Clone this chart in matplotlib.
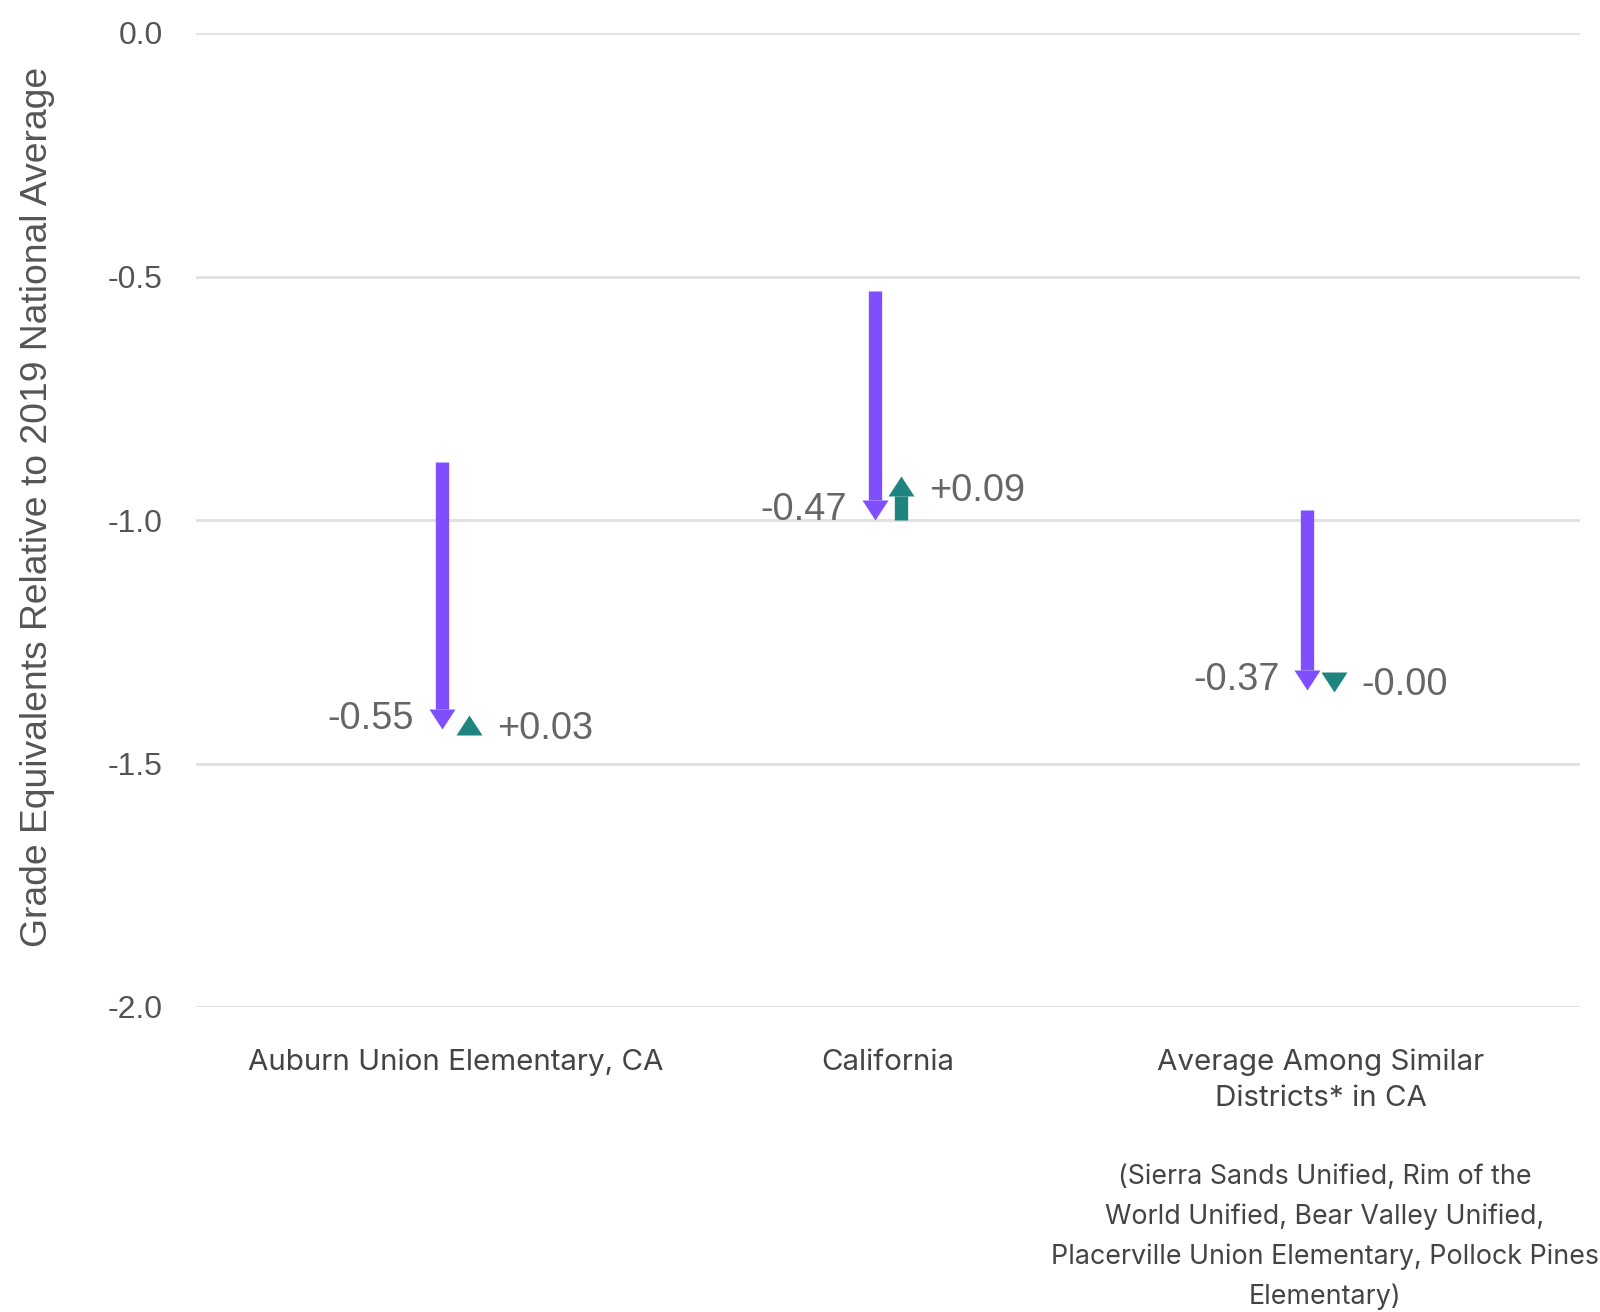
import matplotlib
matplotlib.use("Agg")
from matplotlib import pyplot as plt
from matplotlib.path import Path
import matplotlib.transforms as mtransforms

# data
categories = ["Auburn Union Elementary, CA", "California",
              "Average Among Similar\nDistricts* in CA"]
start = [-0.88, -0.53, -0.98]      # top of purple arrow
drop = [-0.55, -0.47, -0.37]       # purple change
rebound = [0.03, 0.09, -0.004]     # teal change
yticks = [0.0, -0.5, -1.0, -1.5, -2.0]
footnote = ("(Sierra Sands Unified, Rim of the\nWorld Unified, Bear Valley Unified,\n"
            "Placerville Union Elementary, Pollock Pines\nElementary)")

purple = "#7f4fff"
teal = "#1e8480"
num_font = "Liberation Sans"
cat_font = "Inter"

W, H = 1600, 1312
fig = plt.figure(figsize=(W / 100, H / 100), dpi=100)
left, right, bottom, top = 196 / W, 1580 / W, 1 - 1007 / H, 1 - 33 / H
ax = fig.add_axes([left, bottom, right - left, top - bottom])
ax.set_xlim(-0.6, 2.6)
ax.set_ylim(-2.0, 0.0)

px_per_unit = H * (top - bottom) / 2.0
head_len = 20 / px_per_unit
dx = 0.031

# arrow head marker, tip at origin
up_head = Path([(0, 0), (-13, -20), (13, -20), (0, 0)],
               [Path.MOVETO, Path.LINETO, Path.LINETO, Path.CLOSEPOLY])
down_head = Path([(0, 0), (-13, 20), (13, 20), (0, 0)],
                 [Path.MOVETO, Path.LINETO, Path.LINETO, Path.CLOSEPOLY])


def arrow(x, y0, y1, color):
    d = 1 if y1 >= y0 else -1
    shaft_end = y1 - d * head_len
    if (shaft_end - y0) * d > 0:
        ax.plot([x, x], [y0, shaft_end], color=color, lw=9.6,
                solid_capstyle="butt", zorder=3)
    ax.plot([x], [y1], marker=up_head if d > 0 else down_head,
            markersize=28.8, color=color, markeredgewidth=0, zorder=4)
    return d


for i in range(len(categories)):
    y_mid = start[i] + drop[i]
    y_end = y_mid + rebound[i]
    d1 = arrow(i - dx, start[i], y_mid, purple)
    d2 = arrow(i + dx, y_mid, y_end, teal)
    ax.annotate(f"{drop[i]:.2f}", (i - dx, y_mid), xytext=(-20, -d1 * 7.5),
                textcoords="offset points", ha="right", va="center",
                fontsize=27.3, color="#666666", family=num_font)
    ax.annotate(f"{rebound[i]:+.2f}", (i + dx, y_end),
                xytext=(20, -d2 * 8 - 2.5),
                textcoords="offset points", ha="left", va="center",
                fontsize=27.3, color="#666666", family=num_font)

ax.set_yticks(yticks)
ax.set_yticklabels([f"{t:.1f}" for t in yticks], family=num_font,
                   fontsize=23, color="#555555")
ax.set_xticks(range(len(categories)))
ax.set_xticklabels(categories, family=cat_font, fontsize=21.3,
                   color="#444444", linespacing=1.42)
ax.tick_params(axis="both", length=0)
ax.tick_params(axis="y", pad=24)
ax.tick_params(axis="x", pad=30)
ax.grid(axis="y", color="#e2e2e2", lw=2.2)
ax.set_axisbelow(True)
for s in ax.spines.values():
    s.set_visible(False)

fig.text(38 / W, 1 - 507 / H, "Grade Equivalents Relative to 2019 National Average",
         rotation=90, ha="center", va="center", fontsize=26.8, color="#555555",
         family=num_font)
foot_tr = mtransforms.blended_transform_factory(ax.transData, fig.transFigure)
ax.text(2.01, 1 - 1164 / H, footnote, transform=foot_tr,
        ha="center", va="top", fontsize=19.3, color="#444444",
        family=cat_font, linespacing=1.66)

fig.savefig("out.png", dpi=100)
